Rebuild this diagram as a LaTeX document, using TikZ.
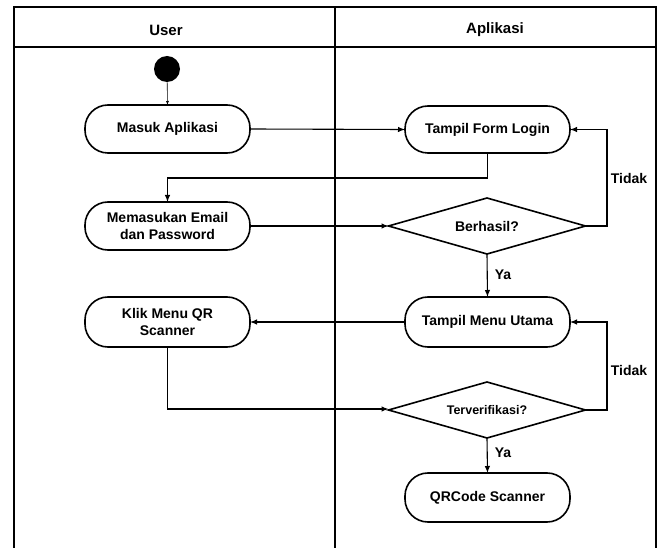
\documentclass[tikz,border=0pt]{standalone}
\usepackage{fontspec}
\setmainfont{Liberation Sans}
\usetikzlibrary{shapes.geometric,arrows.meta}
\begin{document}
\begin{tikzpicture}[x=1pt,y=-1pt,
  actbox/.style={draw,line width=1.6pt,rounded corners=23pt,minimum width=165pt,minimum height=48pt,
    inner sep=0pt,outer sep=0pt,align=center,font=\bfseries\fontsize{14}{17}\selectfont},
  decbox/.style={draw,line width=1.6pt,diamond,aspect=3.5,minimum width=197pt,minimum height=56pt,
    inner sep=0pt,outer sep=0pt,font=\bfseries\fontsize{14}{17}\selectfont},
  lane/.style={line width=1.8pt},
  conn/.style={line width=1.1pt,-{Latex[length=7pt,width=5.5pt]}},
  lbl/.style={font=\bfseries\fontsize{14}{17}\selectfont,inner sep=0pt},
  hdr/.style={font=\bfseries\fontsize{15}{18}\selectfont,inner sep=0pt}]
\useasboundingbox (0,0) rectangle (662,548);
% frame
\coordinate (tl) at (14,7);
\coordinate (tr) at (656,7);
\coordinate (tm) at (335,7);
\coordinate (bl) at (14,549);
\coordinate (br) at (656,549);
\coordinate (bm) at (335,549);
\coordinate (hl) at (14,47);
\coordinate (hr) at (656,47);
\draw[lane] (bl) -- (tl) -- (tr) -- (br);
\draw[lane] (tm) -- (bm);
\draw[line width=2.6pt] (hl) -- (hr);
\node[hdr] (huser) at (166,30) {User};
\node[hdr] (happ) at (495,30) {Aplikasi};
% nodes
\node[circle,fill=black,minimum size=26pt,inner sep=0pt,outer sep=0pt] (start) at (167,69) {};
\node[actbox] (masuk) at (167.5,129) {Masuk Aplikasi};
\node[actbox,minimum height=47pt] (form) at (487.5,129.5) {Tampil Form Login};
\node[actbox] (email) at (167.5,226) {Memasukan Email\\dan Password};
\node[decbox] (berhasil) at (487,226) {Berhasil?};
\node[actbox,minimum height=50pt] (klik) at (167.5,322) {Klik Menu QR\\Scanner};
\node[actbox,minimum height=50pt] (menu) at (487.5,322) {Tampil Menu Utama};
\node[decbox,font=\bfseries\fontsize{12.5}{15}\selectfont] (verif) at (487,410) {Terverifikasi?};
\node[actbox,minimum height=49pt] (qr) at (487.5,497.5) {QRCode Scanner};
% helper coordinates
\coordinate (c1) at (487.5,178);
\coordinate (c2) at (167.5,178);
\coordinate (c3) at (607,226);
\coordinate (c4) at (607,129.5);
\coordinate (c5) at (167.5,409);
\coordinate (c6) at (607,410);
\coordinate (c7) at (607,322);
% connectors
\draw[line width=0.6pt,-{Latex[length=4pt,width=3pt]}] (start) -- (masuk.north);
\draw[conn] (masuk.east) -- (form.west);
\draw[conn] (form.south) -- (c1) -- (c2) -- (email.north);
\draw[conn] (email.east) -- (berhasil.west);
\draw[conn] (berhasil.east) -- (c3) -- (c4) -- (form.east);
\draw[conn] (berhasil.south) -- (menu.north);
\draw[conn] (menu.west) -- (klik.east);
\draw[conn] (klik.south) -- (c5) -- (verif.west |- c5);
\draw[conn] (verif.east) -- (c6) -- (c7) -- (menu.east);
\draw[conn] (verif.south) -- (qr.north);
% labels
\node[lbl] (t1) at (629,178) {Tidak};
\node[lbl] (t2) at (629,370) {Tidak};
\node[lbl] (y1) at (503,275) {Ya};
\node[lbl] (y2) at (503,453) {Ya};
\end{tikzpicture}
\end{document}
